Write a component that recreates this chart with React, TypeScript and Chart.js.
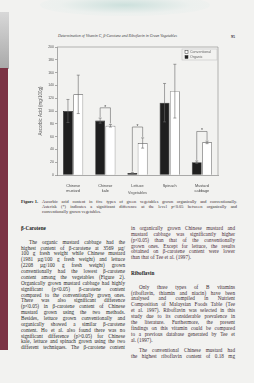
import React, { useEffect, useRef } from "react";
import { Chart, registerables } from "chart.js";
Chart.register(...registerables);

const categories = [["Chinese", "mustard"], ["Chinese", "kale"], ["Lettuce"], ["Spinach"], ["Mustard", "cabbage"]];
const organic = [100, 85, 3, 113, 20];
const organicErr = [18, 4, 1, 30, 2];
const conventional = [126, 77, 50, 131, 51];
const conventionalErr = [30, 2, 8, 42, 2];
const sigLevel: (number | null)[] = [null, 105, 75, null, 68];
const yMin = 0;
const yMax = 200;
const yStep = 20;
const seriesNames = ["Organic", "Conventional"];

const headerText = "Determination of Vitamin C, β-Carotene and Riboflavin in Green Vegetables";
const pageNumber = "95";
const captionLines = [
  "Ascorbic acid content in five types of green vegetables grown organically and conventionally.",
  "Asterisk (*) indicates a significant difference at the level p<0.05 between organically and",
  "conventionally grown vegetables.",
];
const leftHeading = "β-Carotene";
const leftLines = [
  "The organic mustard cabbage had the",
  "highest content of β-carotene at 3569 µg/",
  "100 g fresh weight while Chinese mustard",
  "(1981 µg/100 g fresh weight) and lettuce",
  "(2208 µg/100 g fresh weight) grown",
  "conventionally had the lowest β-carotene",
  "content among the vegetables (Figure 2).",
  "Organically grown mustard cabbage had highly",
  "significant (p<0.05) β-carotene content",
  "compared to the conventionally grown ones.",
  "There was also significant difference",
  "(p<0.05) in β-carotene content of Chinese",
  "mustard grown using the two methods.",
  "Besides, lettuce grown conventionally and",
  "organically showed a similar β-carotene",
  "content. Ho et al. also found there was no",
  "significant difference (p>0.05) for Chinese",
  "kale, lettuce and spinach grown using the two",
  "different techniques. The β-carotene content",
];
const rightTopLines = [
  "in organically grown Chinese mustard and",
  "mustard cabbage was significantly higher",
  "(p<0.05) than that of the conventionally",
  "grown ones. Except for lettuce, the results",
  "obtained on β-carotene content were lower",
  "than that of Tee et al. (1997).",
];
const rightHeading = "Riboflavin";
const rightLines = [
  "Only three types of B vitamins",
  "(riboflavin, thiamin and niacin) have been",
  "analysed and compiled in Nutrient",
  "Composition of Malaysian Foods Table (Tee",
  "et al. 1997). Riboflavin was selected in this",
  "study due to its considerable prevalence in",
  "the literature. Furthermore, the present",
  "findings on this vitamin could be compared",
  "to a previous database generated by Tee et",
  "al. (1997).",
];
const rightLines2 = [
  "The conventional Chinese mustard had",
  "the highest riboflavin content of 0.18 mg",
];

const overlayPlugin = {
  id: "overlay",
  afterDatasetsDraw(chart: any) {
    const ctx = chart.ctx;
    const y = chart.scales.y;
    const vals = [organic, conventional];
    const errs = [organicErr, conventionalErr];
    ctx.save();
    ctx.strokeStyle = "#666";
    ctx.lineWidth = 0.6;
    [0, 1].forEach((d) => {
      const meta = chart.getDatasetMeta(d);
      meta.data.forEach((bar: any, i: number) => {
        const v = vals[d][i];
        const e = errs[d][i];
        const yt = y.getPixelForValue(v + e);
        const yb = y.getPixelForValue(Math.max(0, v - e));
        const x = bar.x;
        ctx.beginPath();
        ctx.moveTo(x, yt);
        ctx.lineTo(x, yb);
        ctx.moveTo(x - 1.5, yt);
        ctx.lineTo(x + 1.5, yt);
        ctx.moveTo(x - 1.5, yb);
        ctx.lineTo(x + 1.5, yb);
        ctx.stroke();
      });
    });
    const m0 = chart.getDatasetMeta(0);
    const m1 = chart.getDatasetMeta(1);
    sigLevel.forEach((lv, i) => {
      if (lv == null) return;
      const x0 = m0.data[i].x;
      const x1 = m1.data[i].x;
      const yl = y.getPixelForValue(lv);
      const y0 = y.getPixelForValue(organic[i] + organicErr[i]) - 1;
      const y1 = y.getPixelForValue(conventional[i] + conventionalErr[i]) - 1;
      ctx.beginPath();
      ctx.moveTo(x0, y0);
      ctx.lineTo(x0, yl);
      ctx.lineTo(x1, yl);
      ctx.lineTo(x1, y1);
      ctx.stroke();
      ctx.fillStyle = "#444";
      ctx.font = "5px 'Liberation Sans'";
      ctx.textAlign = "center";
      ctx.textBaseline = "alphabetic";
      ctx.fillText("*", (x0 + x1) / 2, yl + 1);
    });
    ctx.restore();
  },
  afterDraw(chart: any) {
    const ctx = chart.ctx;
    const a = chart.chartArea;
    ctx.save();
    ctx.strokeStyle = "#888";
    ctx.lineWidth = 0.6;
    ctx.beginPath();
    ctx.moveTo(a.left, a.top);
    ctx.lineTo(a.right, a.top);
    ctx.lineTo(a.right, a.bottom);
    ctx.stroke();
    const w = 35;
    const h = 11;
    const lx = a.right - w - 1;
    const ly = a.top + 2;
    ctx.strokeStyle = "#bbb";
    ctx.lineWidth = 0.5;
    ctx.strokeRect(lx, ly, w, h);
    const items = [
      { name: seriesNames[1], fill: "#ffffff" },
      { name: seriesNames[0], fill: "#222222" },
    ];
    ctx.font = "3.6px 'Liberation Sans'";
    ctx.textAlign = "left";
    ctx.textBaseline = "middle";
    items.forEach((it, k) => {
      const cy = ly + 3 + k * 5;
      ctx.fillStyle = it.fill;
      ctx.fillRect(lx + 3, cy - 1.5, 3, 3);
      ctx.strokeStyle = "#333";
      ctx.lineWidth = 0.5;
      ctx.strokeRect(lx + 3, cy - 1.5, 3, 3);
      ctx.fillStyle = "#666";
      ctx.fillText(it.name, lx + 8, cy);
    });
    ctx.restore();
  },
};

function ChartBox() {
  const ref = useRef<HTMLCanvasElement | null>(null);
  useEffect(() => {
    if (!ref.current) return;
    const chart = new Chart(ref.current, {
      type: "bar",
      data: {
        labels: categories as any,
        datasets: [
          {
            label: seriesNames[0],
            data: organic,
            backgroundColor: "#1f1f1f",
            borderColor: "#1f1f1f",
            borderWidth: 0.6,
            barPercentage: 0.96,
            categoryPercentage: 0.64,
          },
          {
            label: seriesNames[1],
            data: conventional,
            backgroundColor: "#ffffff",
            borderColor: "#555555",
            borderWidth: 0.7,
            barPercentage: 0.96,
            categoryPercentage: 0.64,
          },
        ],
      },
      options: {
        animation: false,
        responsive: false,
        layout: { padding: { top: 7, right: 10, left: 0, bottom: 0 } },
        plugins: { legend: { display: false }, tooltip: { enabled: false } },
        scales: {
          y: {
            min: yMin,
            max: yMax,
            ticks: {
              stepSize: yStep,
              font: { size: 3.5, family: "'Liberation Sans'" },
              color: "#555",
              padding: 1,
            },
            grid: { drawOnChartArea: false, tickLength: 2, color: "#777", lineWidth: 0.6 },
            border: { color: "#777", width: 0.6 },
            title: {
              display: true,
              text: "Ascorbic Acid (mg/100g)",
              font: { size: 4.5, family: "'Liberation Sans'" },
              color: "#555",
              padding: { top: 2, bottom: 1 },
            },
            afterFit: (s: any) => {
              s.width = 21;
            },
          },
          x: {
            ticks: {
              font: { size: 3.8, family: "'Liberation Sans'" },
              color: "#444",
              padding: 1,
              maxRotation: 0,
              autoSkip: false,
            },
            grid: { display: false },
            border: { color: "#777", width: 0.6 },
            title: {
              display: true,
              text: "Vegetables",
              font: { size: 3.8, family: "'Liberation Sans'" },
              color: "#555",
              padding: { top: 1, bottom: 1 },
            },
            afterFit: (s: any) => {
              s.height = 21;
            },
          },
        },
      },
      plugins: [overlayPlugin],
    });
    return () => chart.destroy();
  }, []);
  return (
    <canvas
      ref={ref}
      width={192}
      height={156}
      style={{ position: "absolute", left: 36, top: 40, width: 192, height: 156 }}
    />
  );
}

const serif = "'Liberation Serif', 'DejaVu Serif', serif";

function Line({ text, top, left, width, indent = 0, justify = true, color = "#2a2a2a", size = 5.2, bold = false }: any) {
  return (
    <div
      style={{
        position: "absolute",
        top,
        left: left + indent,
        width: width - indent,
        fontFamily: serif,
        fontSize: size,
        lineHeight: "6px",
        whiteSpace: "nowrap",
        textAlign: justify ? "justify" : "left",
        textAlignLast: justify ? "justify" : "left",
        color,
        fontWeight: bold ? "bold" : "normal",
        overflow: "visible",
      }}
    >
      {text}
    </div>
  );
}

export default function App() {
  const lh = 5.87;
  return (
    <div
      style={{
        position: "fixed",
        left: 0,
        top: 0,
        width: 254,
        height: 383,
        overflow: "hidden",
        background: "#f2f2f0",
      }}
    >
      <div
        style={{
          position: "absolute",
          left: 40,
          top: -6,
          width: 170,
          height: 22,
          borderRadius: "50%",
          background: "radial-gradient(ellipse at center, rgba(200,222,218,0.9) 0%, rgba(230,238,236,0.5) 55%, rgba(242,242,240,0) 100%)",
        }}
      />
      <div
        style={{
          position: "absolute",
          left: 0,
          top: 12,
          width: 9,
          height: 57,
          background: "linear-gradient(to bottom, #d8d8d8, #a9a9a9)",
        }}
      />
      <div style={{ position: "absolute", left: 0, top: 68, width: 8, height: 282, background: "#7b3344" }} />
      <div
        style={{
          position: "absolute",
          left: 58,
          top: 34,
          fontFamily: serif,
          fontStyle: "italic",
          fontSize: 3.9,
          color: "#444",
          whiteSpace: "nowrap",
        }}
      >
        {headerText}
      </div>
      <div
        style={{ position: "absolute", left: 231, top: 34, fontFamily: serif, fontSize: 4, color: "#333", fontWeight: "bold" }}
      >
        {pageNumber}
      </div>
      <ChartBox />
      <div
        style={{ position: "absolute", left: 21, top: 198.5, fontFamily: serif, fontSize: 4.5, color: "#222", fontWeight: "bold", lineHeight: "6px" }}
      >
        Figure 1.
      </div>
      {captionLines.map((t, i) => (
        <Line key={"c" + i} text={t} top={198.5 + i * 5} left={42} width={195} size={4.4} justify={i < 2} color="#3a2f34" />
      ))}
      <Line text={leftHeading} top={225} left={21} width={50} justify={false} bold size={5.2} color="#222" />
      {leftLines.map((t, i) => (
        <Line key={"l" + i} text={t} top={238.7 + i * lh} left={21} width={104} indent={i === 0 ? 8 : 0} color="#2a2a2a" />
      ))}
      {rightTopLines.map((t, i) => (
        <Line key={"r" + i} text={t} top={225 + i * lh} left={131} width={104} justify={i < rightTopLines.length - 1} color="#4a2d38" />
      ))}
      <Line text={rightHeading} top={270} left={131} width={50} justify={false} bold size={5.2} color="#222" />
      {rightLines.map((t, i) => (
        <Line key={"rb" + i} text={t} top={283.7 + i * lh} left={131} width={104} indent={i === 0 ? 8 : 0} justify={i < rightLines.length - 1} color="#3d2d34" />
      ))}
      {rightLines2.map((t, i) => (
        <Line key={"rc" + i} text={t} top={347 + i * lh} left={131} width={104} indent={i === 0 ? 8 : 0} color="#3d2d34" />
      ))}
    </div>
  );
}
